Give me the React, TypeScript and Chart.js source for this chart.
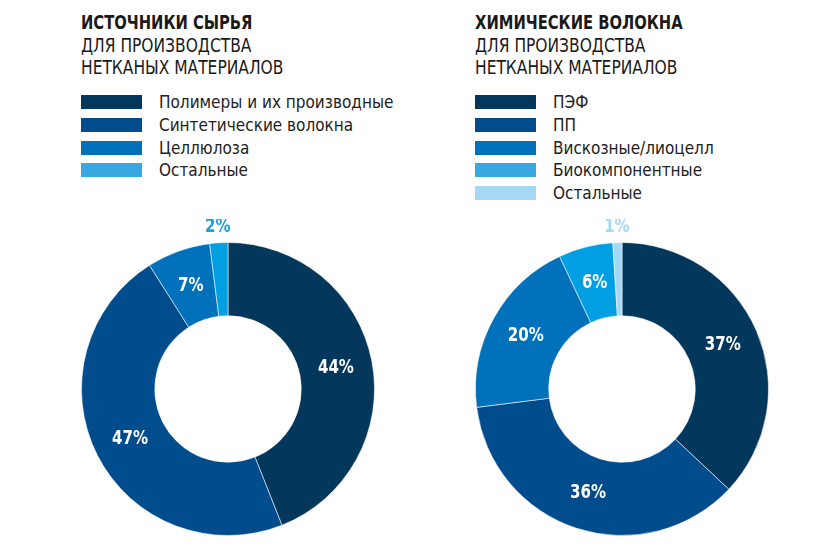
import React, { useEffect, useRef } from 'react';
import { Chart, registerables } from 'chart.js';

Chart.register(...registerables);

const FONT = "'Liberation Sans Narrow', 'DejaVu Sans Condensed', 'Roboto', sans-serif";

// Left chart data
const leftTitle = 'ИСТОЧНИКИ СЫРЬЯ';
const leftSubtitle = ['ДЛЯ ПРОИЗВОДСТВА', 'НЕТКАНЫХ МАТЕРИАЛОВ'];
const leftLabels = ['Полимеры и их производные', 'Синтетические волокна', 'Целлюлоза', 'Остальные'];
const leftValues = [44, 47, 7, 2];
const leftSliceColors = ['#03375C', '#004C8C', '#0071BA', '#009FE3'];
const leftLegendColors = ['#03375C', '#004C8C', '#0071BA', '#38A8E0'];
const leftOuterLabelColors = ['#fff', '#fff', '#fff', '#1A9FE0'];

// Right chart data
const rightTitle = 'ХИМИЧЕСКИЕ ВОЛОКНА';
const rightSubtitle = ['ДЛЯ ПРОИЗВОДСТВА', 'НЕТКАНЫХ МАТЕРИАЛОВ'];
const rightLabels = ['ПЭФ', 'ПП', 'Вискозные/лиоцелл', 'Биокомпонентные', 'Остальные'];
const rightValues = [37, 36, 20, 6, 1];
const rightSliceColors = ['#03375C', '#004C8C', '#0071BA', '#009FE3', '#A5D8F5'];
const rightLegendColors = ['#03375C', '#004C8C', '#0071BA', '#38A8E0', '#A5D8F5'];
const rightOuterLabelColors = ['#fff', '#fff', '#fff', '#fff', '#A5D8F5'];

type DonutProps = {
  values: number[];
  labels: string[];
  colors: string[];
  labelColors: string[];
  left: number;
  top: number;
  size: number;
};

function Donut({ values, labels, colors, labelColors, left, top, size }: DonutProps) {
  const ref = useRef<HTMLCanvasElement | null>(null);
  useEffect(() => {
    if (!ref.current) return;
    const labelPlugin = {
      id: 'sliceLabels',
      afterDatasetsDraw(chart: any) {
        const ctx = chart.ctx;
        const meta = chart.getDatasetMeta(0);
        const data = chart.data.datasets[0].data as number[];
        meta.data.forEach((arc: any, i: number) => {
          const v = data[i];
          const p = arc.getProps(['x', 'y', 'startAngle', 'endAngle', 'outerRadius', 'innerRadius'], true);
          const mid = (p.startAngle + p.endAngle) / 2;
          const inside = v >= 5;
          const r = inside ? (p.innerRadius + p.outerRadius) / 2 : p.outerRadius + 16;
          ctx.save();
          ctx.translate(p.x + r * Math.cos(mid), p.y + r * Math.sin(mid));
          ctx.scale(0.88, 1);
          ctx.font = `bold 19px ${FONT}`;
          ctx.fillStyle = labelColors[i];
          ctx.textAlign = 'center';
          ctx.textBaseline = 'middle';
          ctx.fillText(v + '%', 0, 0);
          ctx.restore();
        });
      },
    };
    const chart = new Chart(ref.current, {
      type: 'doughnut',
      data: {
        labels,
        datasets: [
          {
            data: values,
            backgroundColor: colors,
            borderColor: 'rgba(255,255,255,0.55)',
            borderWidth: 1,
          },
        ],
      },
      options: {
        animation: false,
        responsive: false,
        cutout: '50%',
        layout: { padding: 23 },
        plugins: {
          legend: { display: false },
          tooltip: { enabled: false },
        },
      },
      plugins: [labelPlugin],
    });
    return () => chart.destroy();
  }, []);
  return (
    <canvas
      ref={ref}
      width={size}
      height={size}
      style={{ position: 'absolute', left, top, width: size, height: size }}
    />
  );
}

function Header({ title, subtitle, labels, colors, left, textLeft }: {
  title: string; subtitle: string[]; labels: string[]; colors: string[]; left: number; textLeft: number;
}) {
  return (
    <>
      <div
        style={{
          position: 'absolute', left, top: 11, fontFamily: FONT, fontSize: 20,
          lineHeight: '22.5px', color: '#1a1a1a', whiteSpace: 'nowrap',
        }}
      >
        <div style={{ fontWeight: 'bold', transform: 'scaleX(0.82)', transformOrigin: 'left top' }}>{title}</div>
        {subtitle.map((s) => (
          <div key={s} style={{ transform: 'scaleX(0.86)', transformOrigin: 'left top' }}>{s}</div>
        ))}
      </div>
      <div style={{ position: 'absolute', left, top: 91, fontFamily: FONT, fontSize: 17 }}>
        {labels.map((l, i) => (
          <div key={l} style={{ position: 'relative', height: 22.8, whiteSpace: 'nowrap' }}>
            <div
              style={{
                position: 'absolute', left: 0, top: 4, width: 61, height: 14, background: colors[i],
              }}
            />
            <div
              style={{
                position: 'absolute', left: textLeft - left, top: 0, lineHeight: '22.8px', color: '#222',
              }}
            >
              {l}
            </div>
          </div>
        ))}
      </div>
    </>
  );
}

export default function App() {
  return (
    <div
      style={{
        position: 'absolute', left: 0, top: 0, width: 835, height: 556, overflow: 'hidden', background: '#fff',
      }}
    >
      <Header title={leftTitle} subtitle={leftSubtitle} labels={leftLabels} colors={leftLegendColors} left={81} textLeft={159} />
      <Header title={rightTitle} subtitle={rightSubtitle} labels={rightLabels} colors={rightLegendColors} left={475} textLeft={553} />
      <Donut values={leftValues} labels={leftLabels} colors={leftSliceColors} labelColors={leftOuterLabelColors} left={58} top={219} size={340} />
      <Donut values={rightValues} labels={rightLabels} colors={rightSliceColors} labelColors={rightOuterLabelColors} left={452} top={219} size={340} />
    </div>
  );
}
